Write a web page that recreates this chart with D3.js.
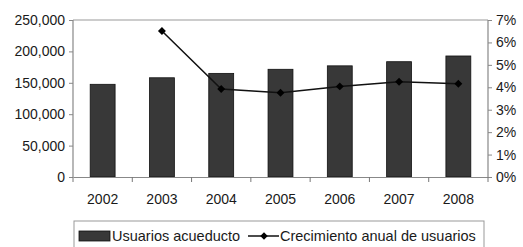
<!DOCTYPE html>
<html>
<head>
<meta charset="utf-8">
<script src="https://cdn.jsdelivr.net/npm/d3@7"></script>
<style>
  body { margin:0; background:#fff; }
  svg text { font-family: Arial, "Liberation Sans", Helvetica, sans-serif; fill:#1a1a1a; }
</style>
</head>
<body>
<div class="graph-section"></div>
<script>
var years = ["2002","2003","2004","2005","2006","2007","2008"];
var usuarios = [147600, 158000, 165000, 171500, 177000, 183600, 192700];
var crecimiento = [null, 6.51, 3.92, 3.76, 4.04, 4.25, 4.16];
var leftTicks = [0, 50000, 100000, 150000, 200000, 250000];
var rightTicks = [0, 1, 2, 3, 4, 5, 6, 7];
var legendNames = ["Usuarios acueducto", "Crecimiento anual de usuarios"];

var screen = {width:523, height:247};
var margins = {top:20, bottom:70, left:73, right:35};

var graphWidth = screen.width - margins.left - margins.right;
var graphHeight = screen.height - margins.top - margins.bottom;

var svg = d3.select(".graph-section")
            .append("svg")
            .attr("width", screen.width)
            .attr("height", screen.height);

var xScale = d3.scaleBand()
               .domain(years)
               .range([0, graphWidth])
               .paddingInner(0.58)
               .paddingOuter(0.29);

var yScale = d3.scaleLinear()
               .domain([0, 250000])
               .range([graphHeight, 0]);

var y2Scale = d3.scaleLinear()
                .domain([0, 7])
                .range([graphHeight, 0]);

var plot = svg.append("g")
              .attr("transform", "translate(" + margins.left + "," + margins.top + ")");

// top border of plot area
plot.append("line").attr("x1", 0).attr("x2", graphWidth).attr("y1", 0).attr("y2", 0)
    .attr("stroke", "#999").attr("stroke-width", 1.2);

// bars
plot.selectAll("rect.bar")
    .data(usuarios)
    .enter()
    .append("rect")
    .attr("class", "bar")
    .attr("x", function(d, i){ return xScale(years[i]); })
    .attr("y", function(d){ return yScale(d); })
    .attr("width", xScale.bandwidth())
    .attr("height", function(d){ return graphHeight - yScale(d); })
    .attr("fill", "#383838")
    .attr("stroke", "#111")
    .attr("stroke-width", 0.8);

// growth line
var pts = crecimiento.map(function(d, i){ return {year: years[i], v: d}; })
                     .filter(function(d){ return d.v !== null; });
var line = d3.line()
             .x(function(d){ return xScale(d.year) + xScale.bandwidth() / 2; })
             .y(function(d){ return y2Scale(d.v); });

plot.append("path")
    .datum(pts)
    .attr("d", line)
    .attr("fill", "none")
    .attr("stroke", "#111")
    .attr("stroke-width", 1.5);

plot.selectAll("path.marker")
    .data(pts)
    .enter()
    .append("path")
    .attr("class", "marker")
    .attr("d", d3.symbol().type(d3.symbolDiamond2).size(40))
    .attr("transform", function(d){
      return "translate(" + (xScale(d.year) + xScale.bandwidth() / 2) + "," + y2Scale(d.v) + ")";
    })
    .attr("fill", "#000");

// axes
var fmt = d3.format(",");
var yAxis = d3.axisLeft(yScale).tickValues(leftTicks).tickFormat(fmt).tickSize(4).tickPadding(4);
var y2Axis = d3.axisRight(y2Scale).tickValues(rightTicks).tickFormat(function(d){ return d + "%"; }).tickSize(4).tickPadding(4);

var gy = plot.append("g").call(yAxis);
var gy2 = plot.append("g").attr("transform", "translate(" + graphWidth + ",0)").call(y2Axis);

// x axis, ticks sit between categories
var xAxis = d3.axisBottom(xScale).tickSize(0).tickPadding(17);
var gx = plot.append("g").attr("transform", "translate(0," + graphHeight + ")").call(xAxis);
var bounds = d3.range(years.length + 1).map(function(i){ return i * xScale.step(); });
gx.selectAll("line.bound")
  .data(bounds)
  .enter()
  .append("line")
  .attr("class", "bound")
  .attr("x1", function(d){ return d; })
  .attr("x2", function(d){ return d; })
  .attr("y1", 0).attr("y2", 5)
  .attr("stroke", "#777");

[gy, gy2, gx].forEach(function(g){
  g.attr("font-family", null);
  g.selectAll(".domain").attr("stroke", "#888").attr("stroke-width", 1.2);
  g.selectAll(".tick line").attr("stroke", "#888");
  g.selectAll("text").attr("font-size", 14).attr("fill", "#1a1a1a");
});
gy.select(".domain").attr("d", "M0," + graphHeight + "V0");
gy2.select(".domain").attr("d", "M0," + graphHeight + "V0");

// legend
var legend = svg.append("g").attr("transform", "translate(74,221)");
legend.append("rect")
      .attr("x", 0).attr("y", 0).attr("width", 410).attr("height", 32)
      .attr("fill", "#fff").attr("stroke", "#999");
legend.append("rect")
      .attr("x", 5).attr("y", 10).attr("width", 31).attr("height", 10)
      .attr("fill", "#383838").attr("stroke", "#111").attr("stroke-width", 0.8);
legend.append("text").attr("x", 38).attr("y", 20).attr("font-size", 14.5).text(legendNames[0]);
legend.append("line").attr("x1", 174).attr("x2", 205).attr("y1", 15).attr("y2", 15)
      .attr("stroke", "#111").attr("stroke-width", 1.5);
legend.append("path")
      .attr("d", d3.symbol().type(d3.symbolDiamond2).size(36))
      .attr("transform", "translate(190,15)")
      .attr("fill", "#000");
legend.append("text").attr("x", 206).attr("y", 20).attr("font-size", 14.5).text(legendNames[1]);
</script>
</body>
</html>
